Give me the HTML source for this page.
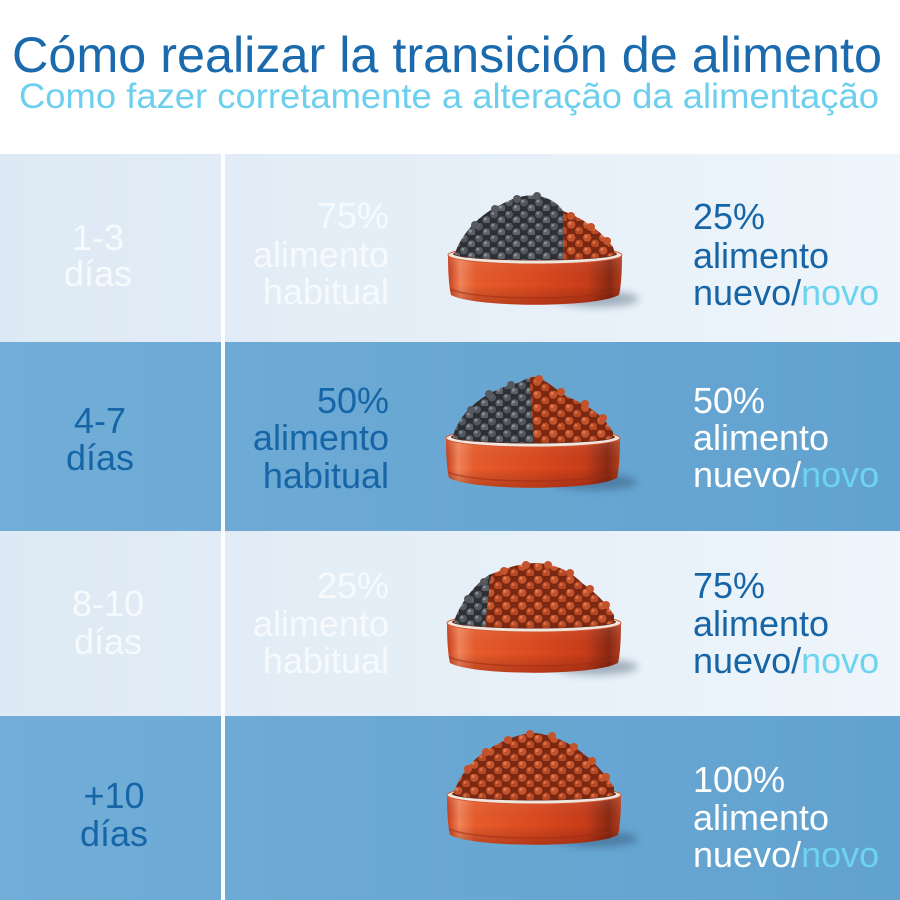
<!DOCTYPE html>
<html>
<head>
<meta charset="utf-8">
<style>
html,body{margin:0;padding:0;background:#fff;}
svg{display:block;}
text{font-family:"Liberation Sans",Arial,sans-serif;}
</style>
</head>
<body>
<svg width="900" height="900" viewBox="0 0 900 900" xmlns="http://www.w3.org/2000/svg">
<defs>
  <linearGradient id="lightBg" x1="0" y1="0" x2="1" y2="0">
    <stop offset="0" stop-color="#dde9f4"/>
    <stop offset="1" stop-color="#eef5fb"/>
  </linearGradient>
  <linearGradient id="blueBg" x1="0" y1="0" x2="1" y2="0">
    <stop offset="0" stop-color="#71add7"/>
    <stop offset="1" stop-color="#62a2cf"/>
  </linearGradient>
  <linearGradient id="bodyG" x1="0" y1="0" x2="1" y2="0">
    <stop offset="0" stop-color="#c83c18"/>
    <stop offset="0.07" stop-color="#f4845a"/>
    <stop offset="0.16" stop-color="#e85d2d"/>
    <stop offset="0.5" stop-color="#de4a1f"/>
    <stop offset="0.8" stop-color="#c83c19"/>
    <stop offset="0.93" stop-color="#8a2913"/>
    <stop offset="1" stop-color="#b63f1d"/>
  </linearGradient>
  <linearGradient id="bodyV" x1="0" y1="0" x2="0" y2="1">
    <stop offset="0" stop-color="#ffffff" stop-opacity="0.12"/>
    <stop offset="0.6" stop-color="#000000" stop-opacity="0"/>
    <stop offset="1" stop-color="#400000" stop-opacity="0.25"/>
  </linearGradient>
  <pattern id="orK" width="16" height="13" patternUnits="userSpaceOnUse">
    <rect width="16" height="13" fill="#7a2812"/>
    <circle cx="4.2" cy="3.6" r="4.2" fill="#c4522a"/>
    <circle cx="12.2" cy="9.8" r="4.2" fill="#b64824"/>
    <circle cx="3" cy="2.3" r="1.6" fill="#e07a52"/>
    <circle cx="11" cy="8.5" r="1.6" fill="#d66b44"/>
  </pattern>
  <pattern id="grK" width="15" height="12" patternUnits="userSpaceOnUse">
    <rect width="15" height="12" fill="#2c2f34"/>
    <circle cx="4" cy="3.4" r="4" fill="#52565d"/>
    <circle cx="11.5" cy="9.2" r="4" fill="#5c6067"/>
    <circle cx="2.9" cy="2.2" r="1.5" fill="#858a91"/>
    <circle cx="10.4" cy="8" r="1.5" fill="#8a8f96"/>
  </pattern>
  <filter id="blur" x="-50%" y="-50%" width="200%" height="200%">
    <feGaussianBlur stdDeviation="4"/>
  </filter>
  <g id="bowl">
    <ellipse cx="62" cy="52" rx="42" ry="8" fill="#1e3550" opacity="0.35" filter="url(#blur)"/>
    <path d="M-87,8 C-87,25 -86,40 -84,48 C-60,61 60,61 84,48 C86,40 87,25 87,8 Z" fill="url(#bodyG)"/>
    <path d="M-87,8 C-87,25 -86,40 -84,48 C-60,61 60,61 84,48 C86,40 87,25 87,8 Z" fill="url(#bodyV)"/>
    <path d="M-85,42 C-60,54 60,54 85,42" fill="none" stroke="#9e2e14" stroke-width="1.5" opacity="0.6"/>
    <ellipse cx="0" cy="8" rx="87" ry="9" fill="#f0e6e0" stroke="#d4572e" stroke-width="1"/>
    <ellipse cx="0" cy="7" rx="82" ry="6.5" fill="#5a2414"/>
  </g>
</defs>

<!-- header -->
<rect x="0" y="0" width="900" height="154" fill="#ffffff"/>
<text x="12" y="72" font-size="50" fill="#1a6aad" textLength="870" lengthAdjust="spacingAndGlyphs">Cómo realizar la transición de alimento</text>
<text x="19" y="108" font-size="35" fill="#6ccfee" textLength="860" lengthAdjust="spacingAndGlyphs">Como fazer corretamente a alteração da alimentação</text>

<!-- rows -->
<rect x="0" y="154" width="900" height="188" fill="url(#lightBg)"/>
<rect x="0" y="342" width="900" height="189" fill="url(#blueBg)"/>
<rect x="0" y="531" width="900" height="185" fill="url(#lightBg)"/>
<rect x="0" y="716" width="900" height="184" fill="url(#blueBg)"/>
<rect x="221" y="154" width="4" height="746" fill="#ffffff"/>

<!-- left column -->
<g font-size="36" text-anchor="middle">
  <text x="98" y="250" fill="#f6fafd">1-3</text>
  <text x="98" y="286" fill="#f6fafd">días</text>
  <text x="100" y="433" fill="#1665a7">4-7</text>
  <text x="100" y="470" fill="#1665a7">días</text>
  <text x="108" y="616" fill="#f6fafd">8-10</text>
  <text x="108" y="654" fill="#f6fafd">días</text>
  <text x="114" y="808" fill="#1665a7">+10</text>
  <text x="114" y="846" fill="#1665a7">días</text>
</g>

<!-- middle column -->
<g font-size="36" text-anchor="end">
  <text x="389" y="228" fill="#f6fafd">75%</text>
  <text x="389" y="267" fill="#f6fafd">alimento</text>
  <text x="389" y="304" fill="#f6fafd">habitual</text>
  <text x="389" y="413" fill="#1665a7">50%</text>
  <text x="389" y="450" fill="#1665a7">alimento</text>
  <text x="389" y="488" fill="#1665a7">habitual</text>
  <text x="389" y="598" fill="#f6fafd">25%</text>
  <text x="389" y="636" fill="#f6fafd">alimento</text>
  <text x="389" y="673" fill="#f6fafd">habitual</text>
</g>

<!-- right column -->
<g font-size="36">
  <text x="693" y="229" fill="#1665a7">25%</text>
  <text x="693" y="268" fill="#1665a7">alimento</text>
  <text x="693" y="305" fill="#1665a7">nuevo/<tspan fill="#6dd3ef">novo</tspan></text>
  <text x="693" y="413" fill="#ffffff">50%</text>
  <text x="693" y="450" fill="#ffffff">alimento</text>
  <text x="693" y="487" fill="#ffffff">nuevo/<tspan fill="#6dd3ef">novo</tspan></text>
  <text x="693" y="598" fill="#1665a7">75%</text>
  <text x="693" y="636" fill="#1665a7">alimento</text>
  <text x="693" y="673" fill="#1665a7">nuevo/<tspan fill="#6dd3ef">novo</tspan></text>
  <text x="693" y="792" fill="#ffffff">100%</text>
  <text x="693" y="830" fill="#ffffff">alimento</text>
  <text x="693" y="867" fill="#ffffff">nuevo/<tspan fill="#6dd3ef">novo</tspan></text>
</g>

<!-- bowl 1 -->
<g transform="translate(535,247)">
  <use href="#bowl"/>
  <clipPath id="p1"><path d="M-80,7 C-76,-8 -60,-30 -35,-42 C-20,-50 -5,-54 8,-50 C18,-47 24,-42 28,-36 C45,-30 65,-18 78,0 L80,7 A80,6 0 0 1 -80,7 Z"/></clipPath>
  <g clip-path="url(#p1)">
    <rect x="-90" y="-60" width="180" height="80" fill="url(#orK)"/>
    <rect x="-90" y="-60" width="118" height="80" fill="url(#grK)"/>
  </g>
  <g fill="#56595f">
    <circle cx="-60" cy="-22" r="4"/><circle cx="-40" cy="-38" r="4"/><circle cx="-18" cy="-48" r="4"/><circle cx="2" cy="-51" r="4"/>
  </g>
  <g fill="#c4522a">
    <circle cx="36" cy="-31" r="4"/><circle cx="56" cy="-20" r="4"/><circle cx="72" cy="-6" r="4"/>
  </g>
</g>

<!-- bowl 2 -->
<g transform="translate(533,430)">
  <use href="#bowl"/>
  <clipPath id="p2"><path d="M-80,7 C-76,-12 -55,-38 -15,-47 C-8,-50 -4,-54 2,-53 C15,-50 25,-38 35,-33 C55,-25 70,-15 80,2 L80,7 A80,6 0 0 1 -80,7 Z"/></clipPath>
  <g clip-path="url(#p2)">
    <rect x="-90" y="-60" width="180" height="80" fill="url(#orK)"/>
    <path d="M-90,20 L-90,-60 L-3,-60 L-3,-45 L1,20 Z" fill="url(#grK)"/>
  </g>
  <g fill="#56595f">
    <circle cx="-62" cy="-20" r="4"/><circle cx="-44" cy="-36" r="4"/><circle cx="-22" cy="-45" r="4"/>
  </g>
  <g fill="#c4522a">
    <circle cx="6" cy="-51" r="4"/><circle cx="28" cy="-38" r="4"/><circle cx="52" cy="-26" r="4"/><circle cx="70" cy="-12" r="4"/>
  </g>
</g>

<!-- bowl 3 -->
<g transform="translate(534,615)">
  <use href="#bowl"/>
  <clipPath id="p3"><path d="M-80,7 C-75,-10 -60,-30 -45,-40 C-30,-46 -15,-52 3,-52 C20,-51 35,-45 48,-32 C62,-22 72,-12 80,0 L80,7 A80,6 0 0 1 -80,7 Z"/></clipPath>
  <g clip-path="url(#p3)">
    <rect x="-90" y="-60" width="180" height="80" fill="url(#orK)"/>
    <path d="M-90,20 L-90,-60 L-40,-60 L-44,-32 L-50,20 Z" fill="url(#grK)"/>
  </g>
  <g fill="#56595f">
    <circle cx="-66" cy="-16" r="4"/><circle cx="-50" cy="-33" r="4"/>
  </g>
  <g fill="#c4522a">
    <circle cx="-30" cy="-44" r="4"/><circle cx="-8" cy="-50" r="4"/><circle cx="14" cy="-50" r="4"/><circle cx="36" cy="-42" r="4"/><circle cx="56" cy="-26" r="4"/><circle cx="72" cy="-10" r="4"/>
  </g>
</g>

<!-- bowl 4 -->
<g transform="translate(534,787)">
  <use href="#bowl"/>
  <clipPath id="p4"><path d="M-80,5 C-74,-12 -62,-28 -45,-38 C-30,-48 -12,-54 2,-54 C18,-52 35,-45 50,-33 C62,-23 72,-12 80,0 L80,7 A80,6 0 0 1 -80,7 Z"/></clipPath>
  <g clip-path="url(#p4)">
    <rect x="-90" y="-60" width="180" height="80" fill="url(#orK)"/>
  </g>
  <g fill="#c4522a">
    <circle cx="-66" cy="-18" r="4"/><circle cx="-48" cy="-35" r="4"/><circle cx="-26" cy="-47" r="4"/><circle cx="-4" cy="-53" r="4"/><circle cx="18" cy="-51" r="4"/><circle cx="40" cy="-40" r="4"/><circle cx="58" cy="-26" r="4"/><circle cx="72" cy="-10" r="4"/>
  </g>
</g>
</svg>
</body>
</html>
